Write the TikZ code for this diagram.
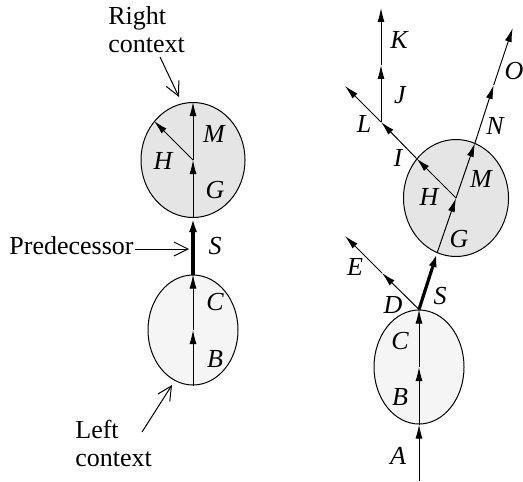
\documentclass[tikz,border=0pt]{standalone}
\usepackage{fontspec}
\setmainfont{Liberation Serif}
\usetikzlibrary{arrows.meta, shapes.geometric}
\definecolor{ctxRight}{HTML}{E5E5E5}
\definecolor{ctxLeft}{HTML}{F5F5F5}

\begin{document}
\begin{tikzpicture}[x=0.5pt, y=-0.5pt,
    ctx/.style={ellipse, draw, line width=0.5pt, inner sep=0pt},
    seg/.style={line width=0.5pt, -{Latex[length=7pt, width=3.5pt]}},
    pred/.style={line width=1.6pt, -{Latex[length=7pt, width=4pt]}},
    callout/.style={line width=0.5pt, -{Straight Barb[length=7pt, width=7pt]}},
    sym/.style={font=\fontsize{13}{15}\selectfont\itshape, inner sep=0pt},
    note/.style={font=\fontsize{13}{14}\selectfont, align=left, inner sep=0pt}
  ]
  \useasboundingbox (0,0) rectangle (523,481);

  % left: string with its two contexts
  \node[ctx, fill=ctxLeft, minimum width=45pt, minimum height=55pt] (lctx) at (193,330) {};
  \node[ctx, fill=ctxRight, minimum width=52pt, minimum height=57.5pt] (rctx) at (193,160) {};

  \draw[seg] (lctx.south) -- (lctx.center);
  \draw[seg] (lctx.center) -- (lctx.north);
  \draw[pred] (lctx.north) -- (rctx.south);
  \draw[seg] (rctx.south) -- (rctx.center);
  \draw[seg] (rctx.center) -- (rctx.north);
  \draw[seg] (rctx.center) -- (rctx.135);

  \node[sym] (lB) at (215,359) {B};
  \node[sym] (lC) at (215,302) {C};
  \node[sym] (lS) at (215,246) {S};
  \node[sym] (lG) at (215,190) {G};
  \node[sym] (lH) at (163,161) {H};
  \node[sym] (lM) at (214,134) {M};

  \node[note, anchor=east] (predtxt) at (134,246) {Predecessor};
  \coordinate (predtail) at (135,249);
  \coordinate (predtip) at (189,249);
  \draw[callout] (predtail) -- (predtip);

  \node[note, anchor=west] (rtxt) at (108,30) {Right\\context};
  \coordinate (rtail) at (160,57);
  \coordinate (rtip) at (179,97);
  \draw[callout] (rtail) -- (rtip);

  \node[note, anchor=west] (ltxt) at (75,443) {Left\\context};
  \coordinate (ltail) at (142,432);
  \coordinate (ltip) at (172,385);
  \draw[callout] (ltail) -- (ltip);

  % right: the same string inside a branching word
  \node[ctx, fill=ctxLeft, minimum width=45pt, minimum height=57pt] (lctx2) at (419,367) {};
  \node[ctx, fill=ctxRight, minimum width=52.5pt, minimum height=58.5pt] (rctx2) at (456,198) {};

  \coordinate (a0) at (419,481);
  \coordinate (d0) at (382,273);
  \coordinate (e0) at (345,236);
  \coordinate (n0) at (493.7,85);
  \coordinate (o0) at (512.7,28);
  \coordinate (l0) at (381,122);
  \coordinate (l1) at (345,86);
  \coordinate (j0) at (381,65);
  \coordinate (k0) at (381,8);

  \draw[seg] (a0) -- (lctx2.south);
  \draw[seg] (lctx2.south) -- (lctx2.center);
  \draw[seg] (lctx2.center) -- (lctx2.north);
  \draw[seg] (lctx2.north) -- (d0);
  \draw[seg] (d0) -- (e0);
  \draw[pred] (lctx2.north) -- (rctx2.251.5);
  \draw[seg] (rctx2.251.5) -- (rctx2.center);
  \draw[seg] (rctx2.center) -- (rctx2.71.5);
  \draw[seg] (rctx2.71.5) -- (n0);
  \draw[seg] (n0) -- (o0);
  \draw[seg] (rctx2.center) -- (rctx2.135);
  \draw[seg] (rctx2.135) -- (l0);
  \draw[seg] (l0) -- (l1);
  \draw[seg] (l0) -- (j0);
  \draw[seg] (j0) -- (k0);

  \node[sym] (rA) at (398,456) {A};
  \node[sym] (rB) at (400,397) {B};
  \node[sym] (rC) at (400,341) {C};
  \node[sym] (rD) at (393,305) {D};
  \node[sym] (rE) at (355,267) {E};
  \node[sym] (rS) at (440,296) {S};
  \node[sym] (rG) at (459,239) {G};
  \node[sym] (rH) at (429,197) {H};
  \node[sym] (rM) at (481,179) {M};
  \node[sym] (rN) at (495,126) {N};
  \node[sym] (rO) at (514,71) {O};
  \node[sym] (rI) at (398,158) {I};
  \node[sym] (rL) at (364,124) {L};
  \node[sym] (rJ) at (400,95) {J};
  \node[sym] (rK) at (399,40) {K};
\end{tikzpicture}
\end{document}
